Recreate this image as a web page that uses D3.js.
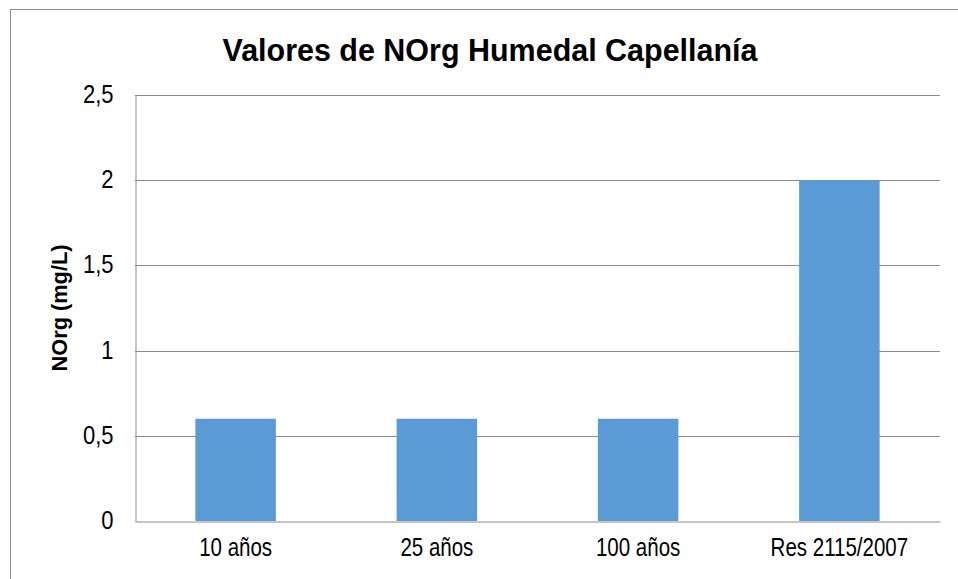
<!DOCTYPE html>
<html><head><meta charset="utf-8">
<script src="https://cdn.jsdelivr.net/npm/d3@7"></script>
<style>
body{margin:0;background:#fff;}
text{font-family:"Liberation Sans",Arial,sans-serif;}
</style></head>
<body><svg id="c" width="958" height="579"></svg>
<script>
const categories = ["10 años","25 años","100 años","Res 2115/2007"];
const values = [0.6, 0.6, 0.6, 2];
const yTicks = [0, 0.5, 1, 1.5, 2, 2.5];
const tickLabels = ["0","0,5","1","1,5","2","2,5"];
const title = "Valores de NOrg Humedal Capellanía";
const yTitle = "NOrg (mg/L)";

const svg = d3.select("#c");
svg.append("rect").attr("x",10.5).attr("y",9.5).attr("width",1000).attr("height",1000)
  .attr("fill","#fff").attr("stroke","#8c8c8c").attr("stroke-width",1);

const m = {left:135, right:940, top:95, bottom:521};
const x = d3.scaleBand().domain(categories).range([m.left, m.right]).paddingInner(0.6).paddingOuter(0.3);
const y = d3.scaleLinear().domain([0,2.5]).range([m.bottom, m.top]);

function narrow(sel, f){
  sel.each(function(){
    const w = this.getComputedTextLength();
    d3.select(this).attr("textLength", w*f).attr("lengthAdjust","spacingAndGlyphs");
  });
}

// gridlines
svg.append("g").selectAll("line").data(yTicks.slice(1)).join("line")
  .attr("x1",m.left).attr("x2",m.right)
  .attr("y1",d=>Math.round(y(d))+0.5).attr("y2",d=>Math.round(y(d))+0.5)
  .attr("stroke","#8c8c8c").attr("stroke-width",1);

// bars
svg.append("g").selectAll("rect").data(values).join("rect")
  .attr("x",(d,i)=>x(categories[i])).attr("width",x.bandwidth())
  .attr("y",d=>y(d)).attr("height",d=>y(0)-y(d))
  .attr("fill","#5b9bd5");

// axes
const yAxis = d3.axisLeft(y).tickValues(yTicks).tickFormat((d,i)=>tickLabels[i]).tickSize(0).tickPadding(22);
const gy = svg.append("g").attr("transform",`translate(${m.left+0.5},0)`).call(yAxis);
gy.select(".domain").attr("stroke","#8c8c8c");
gy.selectAll("text").attr("font-size",25).attr("fill","#000").attr("dy","0.3em")
  .style("font-family",'"Liberation Sans",Arial,sans-serif');
narrow(gy.selectAll("text"), 0.88);

const xAxis = d3.axisBottom(x).tickSize(0).tickPadding(17);
const gx = svg.append("g").attr("transform",`translate(0,${m.bottom+0.5})`).call(xAxis);
gx.select(".domain").attr("stroke","#8c8c8c");
gx.selectAll("text").attr("font-size",25).attr("fill","#000")
  .style("font-family",'"Liberation Sans",Arial,sans-serif');
narrow(gx.selectAll("text"), 0.82);

const t = svg.append("text").attr("x",490).attr("y",61).attr("text-anchor","middle")
  .attr("font-size",31).attr("font-weight","bold").text(title);
narrow(t, 535 / t.node().getComputedTextLength());

const yt = svg.append("text").attr("transform","translate(67,308) rotate(-90)").attr("text-anchor","middle")
  .attr("font-size",21.5).attr("font-weight","bold").text(yTitle);
narrow(yt, 127 / yt.node().getComputedTextLength());
</script></body></html>
